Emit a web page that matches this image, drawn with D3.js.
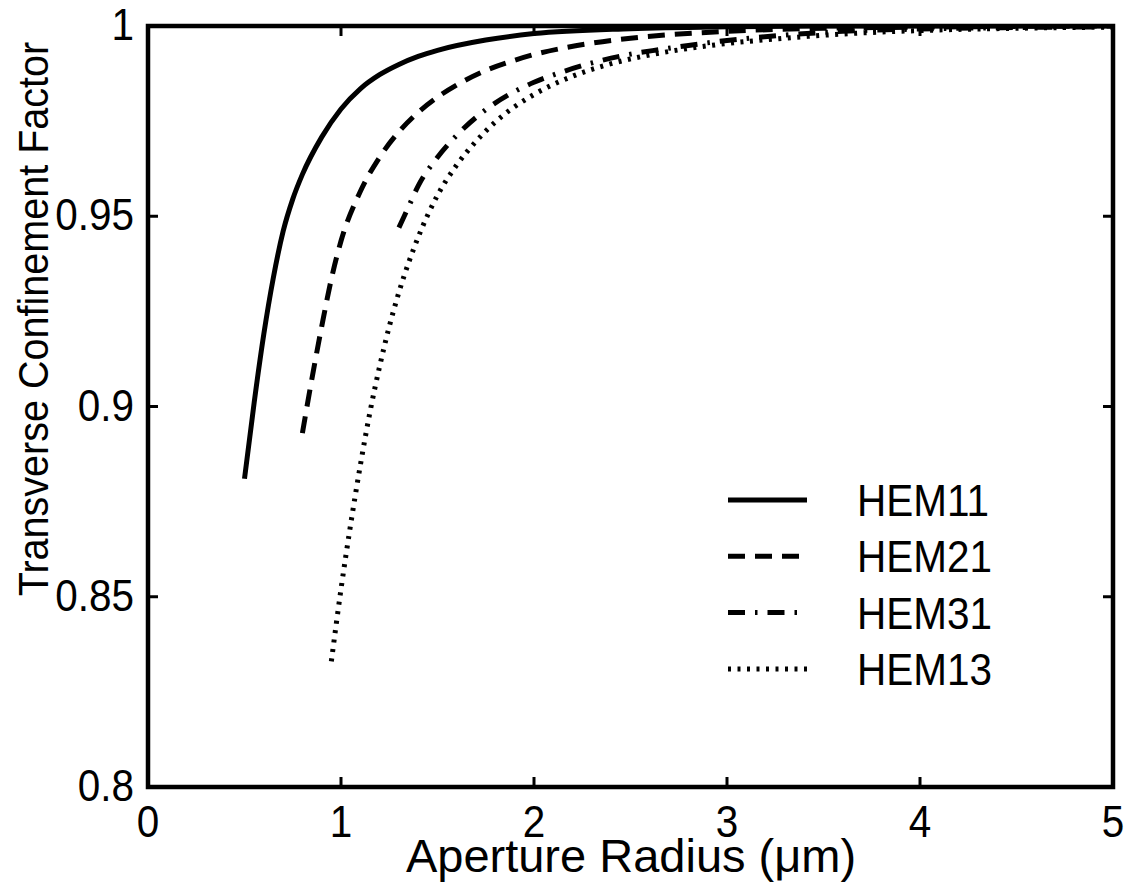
<!DOCTYPE html>
<html>
<head>
<meta charset="utf-8">
<script src="https://cdn.jsdelivr.net/npm/d3@7"></script>
<style>
  body { margin: 0; background: #fff; }
  text { font-family: "Liberation Sans", Arial, sans-serif; fill: #000; }
</style>
</head>
<body>
<svg id="chart" width="1128" height="888"></svg>
<script>
// values
var hem11X = [0.50,0.55,0.60,0.65,0.70,0.75,0.80,0.90,1.00,1.10,1.20,1.30,1.40,1.50,1.75,2.00,2.50,3.00,3.50,4.00,4.50,5.00]
var hem11Y = [0.881,0.901,0.919,0.934,0.946,0.9545,0.961,0.9708,0.9782,0.9835,0.9872,0.9899,0.992,0.9936,0.9963,0.998,0.9993,0.9998,1.0,1.0,1.0,1.0]

var hem21X = [0.80,0.85,0.90,0.95,1.00,1.10,1.20,1.30,1.40,1.50,1.60,1.75,1.90,2.00,2.15,2.30,2.50,2.70,2.85,3.00,3.25,3.50,4.00,4.50,5.00]
var hem21Y = [0.893,0.9075,0.921,0.9335,0.9435,0.9565,0.9655,0.9722,0.9773,0.9813,0.9845,0.9883,0.991,0.9925,0.9942,0.9955,0.9968,0.9977,0.9982,0.9986,0.9991,0.9994,0.9997,0.9999,1.0]

var hem31X = [1.30,1.35,1.40,1.50,1.60,1.75,1.90,2.00,2.15,2.30,2.50,2.65,2.80,3.00,3.30,3.60,4.00,4.50,5.00]
var hem31Y = [0.947,0.9525,0.958,0.9655,0.9713,0.978,0.9828,0.9852,0.988,0.9903,0.9926,0.9938,0.9949,0.9962,0.9976,0.9986,0.9992,0.9996,0.9998]

var hem13X = [0.95,1.00,1.05,1.10,1.15,1.20,1.25,1.30,1.40,1.50,1.60,1.70,1.80,2.00,2.20,2.40,2.60,2.80,3.00,3.30,3.60,4.00,4.50,5.00]
var hem13Y = [0.833,0.852,0.869,0.8845,0.8985,0.9105,0.921,0.930,0.9445,0.9555,0.9635,0.9697,0.9748,0.982,0.9868,0.9901,0.9924,0.9941,0.9954,0.9968,0.9979,0.9988,0.9994,0.9997]

var seriesNames = ["HEM11","HEM21","HEM31","HEM13"]
var xTicks = [0,1,2,3,4,5]
var yTicks = [0.8,0.85,0.9,0.95,1]
var yTickLabels = ["0.8","0.85","0.9","0.95","1"]

var series = [
  {name: seriesNames[0], xs: hem11X, ys: hem11Y, dash: null},
  {name: seriesNames[1], xs: hem21X, ys: hem21Y, dash: "17,10"},
  {name: seriesNames[2], xs: hem31X, ys: hem31Y, dash: "17,10,2.5,10"},
  {name: seriesNames[3], xs: hem13X, ys: hem13Y, dash: "3,6.5"}
]

// plot box (window.top is read-only, so no bare "top")
var pLeft = 148, pRight = 1113, pTop = 26, pBottom = 787
var sx = 0.92   // the lettering in the picture is a bit narrow

var x = d3.scaleLinear().domain([0,5]).range([pLeft,pRight])
var y = d3.scaleLinear().domain([0.8,1]).range([pBottom,pTop])

var svg = d3.select("#chart")

svg.append("clipPath").attr("id","plotclip")
  .append("rect")
  .attr("x",pLeft).attr("y",pTop)
  .attr("width",pRight-pLeft).attr("height",pBottom-pTop)

var line = d3.line()
  .x(d => x(d[0]))
  .y(d => y(d[1]))
  .curve(d3.curveMonotoneX)

svg.append("g").attr("clip-path","url(#plotclip)")
  .selectAll("path")
  .data(series)
  .enter()
  .append("path")
  .attr("d", d => line(d.xs.map((v,i) => [v, d.ys[i]])))
  .attr("fill","none")
  .attr("stroke","#000")
  .attr("stroke-width",5)
  .attr("stroke-dasharray", d => d.dash)

// ticks, inward on all four sides
var tickLen = 10
var ticks = svg.append("g").attr("stroke","#000").attr("stroke-width",3)
xTicks.forEach(t => {
  ticks.append("line").attr("x1",x(t)).attr("x2",x(t)).attr("y1",pBottom).attr("y2",pBottom-tickLen)
  ticks.append("line").attr("x1",x(t)).attr("x2",x(t)).attr("y1",pTop).attr("y2",pTop+tickLen)
})
yTicks.forEach(t => {
  ticks.append("line").attr("x1",pLeft).attr("x2",pLeft+tickLen).attr("y1",y(t)).attr("y2",y(t))
  ticks.append("line").attr("x1",pRight).attr("x2",pRight-tickLen).attr("y1",y(t)).attr("y2",y(t))
})

// frame
svg.append("rect")
  .attr("x",pLeft).attr("y",pTop)
  .attr("width",pRight-pLeft).attr("height",pBottom-pTop)
  .attr("fill","none").attr("stroke","#000").attr("stroke-width",4.5)

// tick labels
svg.append("g").selectAll("text")
  .data(xTicks)
  .enter()
  .append("text")
  .attr("transform", d => "translate(" + x(d) + ",837) scale(" + sx + ",1)")
  .attr("text-anchor","middle")
  .style("font-size","44px")
  .text(d => d)

svg.append("g").selectAll("text")
  .data(yTicks)
  .enter()
  .append("text")
  .attr("transform", d => "translate(134," + (y(d)+14) + ") scale(" + sx + ",1)")
  .attr("text-anchor","end")
  .style("font-size","44px")
  .text((d,i) => yTickLabels[i])

// axis titles
svg.append("text")
  .attr("transform","translate(631,872)")
  .attr("text-anchor","middle")
  .style("font-size","47px")
  .text("Aperture Radius (μm)")

svg.append("text")
  .attr("transform","translate(48,319) rotate(-90) scale(" + sx + ",1)")
  .attr("text-anchor","middle")
  .style("font-size","43px")
  .text("Transverse Confinement Factor")

// legend
var legend = svg.append("g").selectAll("g")
  .data(series)
  .enter()
  .append("g")
  .attr("transform",(d,i) => "translate(0," + (500 + i*56.3) + ")")

legend.append("line")
  .attr("x1",728).attr("x2",807)
  .attr("stroke","#000").attr("stroke-width",5)
  .attr("stroke-dasharray", d => d.dash)

legend.append("text")
  .attr("transform","translate(857,16) scale(" + sx + ",1)")
  .style("font-size","44px")
  .text(d => d.name)
</script>
</body>
</html>
